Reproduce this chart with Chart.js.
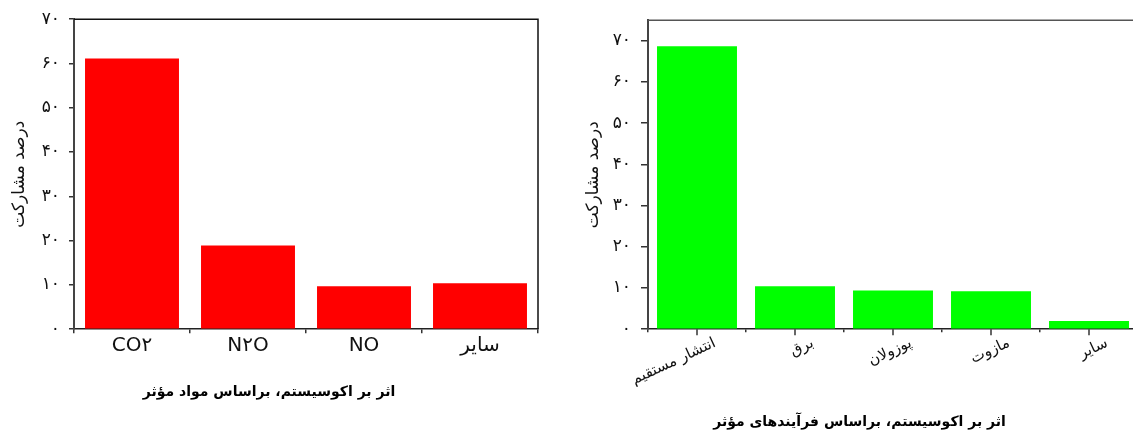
<!DOCTYPE html>
<html>
<head>
<meta charset="utf-8">
<script src="https://cdn.jsdelivr.net/npm/chart.js@4/dist/chart.umd.min.js"></script>
<style>
  html, body { margin: 0; padding: 0; background: #fff; overflow: hidden; width: 1133px; height: 437px; }
  #substances { position: absolute; left: 0; top: 0; }
  #processes { position: absolute; left: 581px; top: 0; }
</style>
</head>
<body>
<canvas id="substances" width="560" height="437"></canvas>
<canvas id="processes" width="579" height="437"></canvas>
<script>
// Ecosystem impact shares (percent)
const substanceLabels = ['CO۲', 'N۲O', 'NO', 'سایر'];
const substanceShare = [61.1, 18.9, 9.7, 10.4];

const processLabels = ['انتشار مستقیم', 'برق', 'پوزولان', 'مازوت', 'سایر'];
const processShare = [68.7, 10.4, 9.4, 9.2, 2.0];

const yAxisTitle = 'درصد مشارکت';
const substanceTitle = 'اثر بر اکوسیستم، براساس مواد مؤثر';
const processTitle = 'اثر بر اکوسیستم، براساس فرآیندهای مؤثر';

const FA_DIGITS = '۰۱۲۳۴۵۶۷۸۹';
const toPersian = v => String(v).replace(/[0-9]/g, d => FA_DIGITS[d]);

// Frame lines along the top (and optionally the right) of the plot area
const framePlugin = {
  id: 'frame',
  afterDraw(chart, args, opts) {
    const { ctx, chartArea: a } = chart;
    ctx.save();
    ctx.strokeStyle = opts.color || '#222';
    ctx.lineWidth = opts.width || 1.5;
    ctx.beginPath();
    ctx.moveTo(a.left, a.top);
    ctx.lineTo(a.right, a.top);
    if (opts.right) ctx.lineTo(a.right, a.bottom);
    ctx.stroke();
    ctx.restore();
  }
};

// Longer tick marks at each category centre
const centerTicksPlugin = {
  id: 'centerTicks',
  afterDraw(chart, args, opts) {
    if (!opts.enabled) return;
    const scale = chart.scales.x;
    const { ctx } = chart;
    ctx.save();
    ctx.strokeStyle = '#333';
    ctx.lineWidth = 1.5;
    scale.ticks.forEach((t, i) => {
      const x = scale.getPixelForTick(i);
      ctx.beginPath();
      ctx.moveTo(x, scale.top);
      ctx.lineTo(x, scale.top + opts.length);
      ctx.stroke();
    });
    ctx.restore();
  }
};

function makeChart(id, cfg) {
  return new Chart(document.getElementById(id), {
    type: 'bar',
    data: {
      labels: cfg.labels,
      datasets: [{
        data: cfg.values,
        backgroundColor: cfg.color,
        borderWidth: 0,
        barPercentage: cfg.barPct,
        categoryPercentage: 1
      }]
    },
    plugins: [framePlugin, centerTicksPlugin],
    options: {
      responsive: false,
      devicePixelRatio: 1,
      animation: false,
      layout: { padding: { left: 0, right: 22, top: cfg.top, bottom: 0 } },
      plugins: {
        legend: { display: false },
        tooltip: { enabled: false },
        title: {
          display: true,
          position: 'bottom',
          text: cfg.title,
          color: '#000',
          font: { family: 'DejaVu Sans', size: 14, weight: 'bold', lineHeight: 1.2 },
          padding: { top: 10, bottom: cfg.titleBottom }
        },
        frame: { right: cfg.frameRight, color: cfg.frameColor, width: 1.5 },
        centerTicks: { enabled: cfg.centerTicks, length: 6 }
      },
      scales: {
        x: {
          grid: { display: true, drawOnChartArea: false, offset: true, tickLength: cfg.minorTick, color: '#333', lineWidth: 1.5 },
          border: { color: '#222', width: 1.5 },
          ticks: {
            color: '#111',
            font: { family: 'DejaVu Sans', size: cfg.xFont },
            padding: cfg.xPad,
            labelOffset: cfg.labelOffset,
            minRotation: cfg.rotation,
            maxRotation: cfg.rotation,
            autoSkip: false
          },
          afterFit(s) { s.height = cfg.xHeight; }
        },
        y: {
          min: 0,
          max: cfg.yMax,
          afterBuildTicks(s) { s.ticks = s.ticks.filter(t => t.value <= 70 && t.value % 10 === 0); },
          grid: { display: true, drawOnChartArea: false, tickLength: cfg.yTick, color: '#333', lineWidth: 1.5 },
          border: { color: '#444', width: 2 },
          ticks: {
            stepSize: 10,
            color: '#111',
            padding: cfg.yPad,
            font: { family: 'DejaVu Sans', size: 17 },
            callback: v => toPersian(v)
          },
          title: {
            display: true,
            text: yAxisTitle,
            color: '#111',
            font: { family: 'DejaVu Sans', size: 17, lineHeight: 1.1 },
            padding: { top: cfg.yTitlePad, bottom: 0 }
          },
          afterFit(s) { s.width = cfg.yWidth; }
        }
      }
    }
  });
}

makeChart('substances', {
  labels: substanceLabels, values: substanceShare, color: '#ff0000',
  title: substanceTitle, barPct: 0.81, yMax: 70, top: 18,
  titleBottom: 36, xHeight: 45, xFont: 20, xPad: 1, labelOffset: 0, rotation: 0,
  minorTick: 4, yTick: 5, yPad: 9, yWidth: 74, yTitlePad: 10,
  frameRight: true, frameColor: '#111', centerTicks: false
});

makeChart('processes', {
  labels: processLabels, values: processShare, color: '#00ff00',
  title: processTitle, barPct: 0.816, yMax: 75, top: 17,
  titleBottom: 6, xHeight: 75, xFont: 15, xPad: 2, labelOffset: 18, rotation: 25,
  minorTick: 3, yTick: 7, yPad: 10, yWidth: 67, yTitlePad: 3,
  frameRight: false, frameColor: '#555', centerTicks: true
});
</script>
</body>
</html>
